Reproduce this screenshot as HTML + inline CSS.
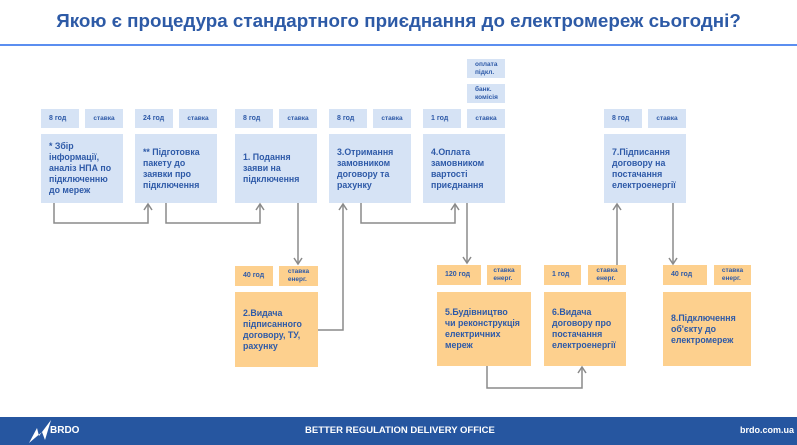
<!DOCTYPE html>
<html><head><meta charset="utf-8"><style>
body{margin:0;width:797px;height:445px;background:#fff;position:relative;overflow:hidden;font-family:"Liberation Sans",sans-serif;}
.t{position:absolute;left:0;width:797px;top:10px;text-align:center;font-size:18.8px;font-weight:bold;color:#2d5aa6;}
.hl{position:absolute;left:0;width:797px;top:44px;height:2px;background:#5b8ef0;}
.b{position:absolute;background:#d6e3f5;color:#2e5aa8;font-weight:bold;box-sizing:border-box;}
.o{background:#fdd08e;}
.s{font-size:6.5px;display:flex;align-items:center;justify-content:center;line-height:8px;font-weight:bold;}
.s.l{justify-content:flex-start;padding-left:8px;font-size:7px;}
.big{font-size:8.8px;line-height:11px;padding:0 6px 0 8px;display:flex;align-items:center;}
.f{position:absolute;left:0;top:417px;width:797px;height:28px;background:#2656a0;color:#fff;font-weight:bold;}
</style></head><body>
<div class="t">Якою є процедура стандартного приєднання до електромереж сьогодні?</div>
<div class="hl"></div>

<div class="b s l" style="left:41px;top:109px;width:38px;height:19px">8 год</div>
<div class="b s" style="left:85px;top:109px;width:38px;height:19px">ставка</div>
<div class="b big" style="left:41px;top:134px;width:82px;height:69px">* Збір інформації, аналіз НПА по підключенню до мереж</div>

<div class="b s l" style="left:135px;top:109px;width:38px;height:19px">24 год</div>
<div class="b s" style="left:179px;top:109px;width:38px;height:19px">ставка</div>
<div class="b big" style="left:135px;top:134px;width:82px;height:69px">** Підготовка пакету до заявки про підключення</div>

<div class="b s l" style="left:235px;top:109px;width:38px;height:19px">8 год</div>
<div class="b s" style="left:279px;top:109px;width:38px;height:19px">ставка</div>
<div class="b big" style="left:235px;top:134px;width:82px;height:69px">1. Подання заяви на підключення</div>

<div class="b s l" style="left:329px;top:109px;width:38px;height:19px">8 год</div>
<div class="b s" style="left:373px;top:109px;width:38px;height:19px">ставка</div>
<div class="b big" style="left:329px;top:134px;width:82px;height:69px">3.Отримання замовником договору та рахунку</div>

<div class="b s" style="left:467px;top:59px;width:38px;height:19px;justify-content:flex-start;padding-left:8px">оплата<br>підкл.</div>
<div class="b s" style="left:467px;top:84px;width:38px;height:19px;justify-content:flex-start;padding-left:8px">банк.<br>комісія</div>
<div class="b s l" style="left:423px;top:109px;width:38px;height:19px">1 год</div>
<div class="b s" style="left:467px;top:109px;width:38px;height:19px">ставка</div>
<div class="b big" style="left:423px;top:134px;width:82px;height:69px">4.Оплата замовником вартості приєднання</div>

<div class="b s l" style="left:604px;top:109px;width:38px;height:19px">8 год</div>
<div class="b s" style="left:648px;top:109px;width:38px;height:19px">ставка</div>
<div class="b big" style="left:604px;top:134px;width:82px;height:69px">7.Підписання договору на постачання електроенергії</div>

<div class="b o s l" style="left:235px;top:266px;width:38px;height:20px">40 год</div>
<div class="b o s" style="left:279px;top:266px;width:39px;height:20px">ставка<br>енерг.</div>
<div class="b o big" style="left:235px;top:292px;width:83px;height:75px">2.Видача підписанного договору, ТУ, рахунку</div>

<div class="b o s l" style="left:437px;top:265px;width:44px;height:20px">120 год</div>
<div class="b o s" style="left:487px;top:265px;width:34px;height:20px">ставка<br>енерг.</div>
<div class="b o big" style="left:437px;top:292px;width:94px;height:74px">5.Будівництво<br>чи реконструкція електричних мереж</div>

<div class="b o s l" style="left:544px;top:265px;width:37px;height:20px">1 год</div>
<div class="b o s" style="left:588px;top:265px;width:38px;height:20px">ставка<br>енерг.</div>
<div class="b o big" style="left:544px;top:292px;width:82px;height:74px">6.Видача договору про постачання електроенергії</div>

<div class="b o s l" style="left:663px;top:265px;width:44px;height:20px">40 год</div>
<div class="b o s" style="left:714px;top:265px;width:37px;height:20px">ставка<br>енерг.</div>
<div class="b o big" style="left:663px;top:292px;width:88px;height:74px">8.Підключення об'єкту до електромереж</div>

<svg width="797" height="445" style="position:absolute;left:0;top:0" fill="none" stroke="#8a8a8a" stroke-width="1.5">
<polyline points="54,203 54,223 148,223 148,205"/><polyline points="144,210 148,204 152,210"/>
<polyline points="166,203 166,223 260,223 260,205"/><polyline points="256,210 260,204 264,210"/>
<polyline points="298,203 298,264"/><polyline points="294,258 298,264 302,258"/>
<polyline points="318,330 343,330 343,205"/><polyline points="339,210 343,204 347,210"/>
<polyline points="361,203 361,223 455,223 455,205"/><polyline points="451,210 455,204 459,210"/>
<polyline points="467,203 467,263"/><polyline points="463,257 467,263 471,257"/>
<polyline points="617,265 617,205"/><polyline points="613,210 617,204 621,210"/>
<polyline points="673,203 673,264"/><polyline points="669,258 673,264 677,258"/>
<polyline points="487,366 487,388 582,388 582,368"/><polyline points="578,373 582,367 586,373"/>
</svg>

<div class="f">
<svg width="30" height="26" style="position:absolute;left:27px;top:1px"><path d="M2,25 L10,10 L12,18 L24,2 L18,22 L15,14 Z" fill="#fff"/></svg>
<div style="position:absolute;left:50px;top:8px;font-size:10px">BRDO</div>
<div style="position:absolute;left:305px;top:8px;font-size:9.5px">BETTER REGULATION DELIVERY OFFICE</div>
<div style="position:absolute;left:740px;top:8px;font-size:9px">brdo.com.ua</div>
</div>
</body></html>
